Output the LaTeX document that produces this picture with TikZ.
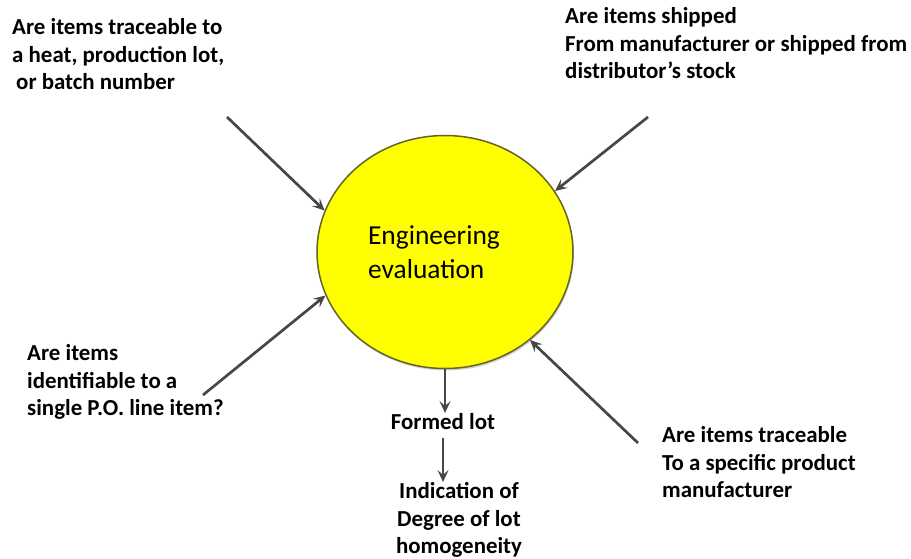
\documentclass[tikz,border=0pt]{standalone}
\usepackage{fontspec}
\setmainfont{Carlito}
\usetikzlibrary{arrows.meta,shapes.geometric,shadows}
\begin{document}
\begin{tikzpicture}[x=1pt, y=-1pt,
    question/.style={anchor=north west, align=left, inner sep=0pt, font=\fontsize{22.9}{27.8}\selectfont\bfseries},
    outcome/.style={anchor=north, align=center, inner sep=0pt, font=\fontsize{22.9}{27.8}\selectfont\bfseries},
    bubble/.style={ellipse, draw={rgb,255:red,100;green,100;blue,40}, line width=1.5pt, fill={rgb,255:red,255;green,255;blue,0},
      minimum width=256pt, minimum height=233pt, drop shadow={shadow xshift=1pt, shadow yshift=-2pt, opacity=.35}},
    feed/.style={draw=black!72, line width=2.7pt, -{Stealth[length=12pt, width=11pt, inset=5pt]}}]
  \useasboundingbox (0,0) rectangle (911,558);
  \node[bubble] (eval) at (445,252) {};
  \node[align=left, inner sep=0pt, font=\fontsize{27.4}{34}\selectfont] (evaltxt) at (434,252) {Engineering\\evaluation};
  \node[question] (heat) at (12,18) {Are items traceable to\\a heat, production lot,\\\hspace{4pt}or batch number};
  \node[question] (ship) at (565,7) {Are items shipped\\From manufacturer or shipped from\\distributor’s stock};
  \node[question] (pol) at (27,344) {Are items\\identifiable to a\\single P.O. line item?};
  \node[question] (maker) at (662,426) {Are items traceable\\To a specific product\\manufacturer};
  \node[outcome] (formed) at (443,413) {Formed lot};
  \node[outcome] (homog) at (459,482) {Indication of\\Degree of lot\\homogeneity};
  \coordinate (heattail) at (227,117);
  \coordinate (shiptail) at (648,117);
  \coordinate (poltail) at (203,395);
  \coordinate (makertail) at (638,443);
  \draw[feed] (heattail) -- (eval.161);
  \draw[feed] (shiptail) -- (eval.29);
  \draw[feed] (poltail) -- (eval.200);
  \draw[feed] (makertail) -- (eval.314);
  \draw[feed] (eval.south) -- (eval.south |- formed.north);
  \draw[feed] ([yshift=-8pt]formed.south) -- (formed.south |- homog.north);
\end{tikzpicture}
\end{document}
